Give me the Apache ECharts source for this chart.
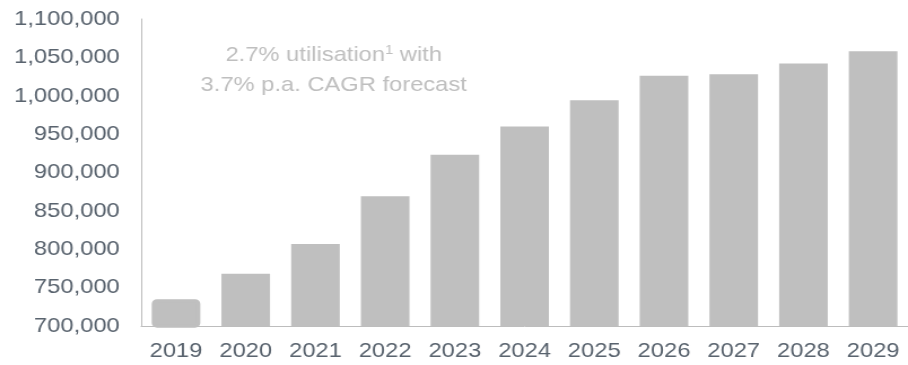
<!DOCTYPE html>
<html>
<head>
<meta charset="utf-8">
<script src="https://cdn.jsdelivr.net/npm/echarts@6/dist/echarts.min.js"></script>
<style>
html,body{margin:0;padding:0;background:#fff;overflow:hidden;width:908px;height:365px;}
#chart{width:804px;height:365px;transform:scaleX(1.12935);transform-origin:0 0;}
</style>
</head>
<body>
<div id="chart"></div>
<script>
const categories = ['2019','2020','2021','2022','2023','2024','2025','2026','2027','2028','2029'];
const values = [735000, 768000, 807000, 869000, 923000, 960000, 994000, 1026000, 1028000, 1042000, 1058000];
const yMin = 700000, yMax = 1100000, yStep = 50000;
const noteLine1 = '2.7% utilisation';
const noteSup = '1';
const noteLine1End = ' with';
const noteLine2 = '3.7% p.a. CAGR forecast';

const FONT = '"Liberation Sans", Arial, sans-serif';
const chart = echarts.init(document.getElementById('chart'), null, {renderer:'canvas'});
chart.setOption({
  animation: false,
  backgroundColor: '#ffffff',
  grid: {left: 125, top: 19, width: 686, height: 307, containLabel: false},
  xAxis: {
    type: 'category',
    data: categories,
    axisLine: {show: true, lineStyle: {color: '#bdbdbd', width: 1}},
    axisTick: {show: false},
    axisLabel: {color: '#59636e', fontSize: 21, fontFamily: FONT, margin: 15}
  },
  yAxis: {
    type: 'value',
    min: yMin, max: yMax, interval: yStep,
    axisLine: {show: true, lineStyle: {color: '#bdbdbd', width: 1}},
    axisTick: {show: false},
    splitLine: {show: false},
    axisLabel: {
      color: '#59636e', fontSize: 21, fontFamily: FONT, margin: 19,
      formatter: v => v.toLocaleString('en-US')
    }
  },
  series: [{
    type: 'bar',
    barWidth: 43,
    data: values.map((v, i) => i === 0
      ? {value: v, itemStyle: {color: '#bfbfbf', borderColor: '#bfbfbf', borderWidth: 3.5, borderRadius: 3}}
      : {value: v}),
    itemStyle: {color: '#bfbfbf'},
    z: 1
  }],
  graphic: [
    {
      type: 'text', x: 295.5, y: 55, z: 10,
      style: {
        text: '{a|' + noteLine1 + '}{s|' + noteSup + '}{a|' + noteLine1End + '}',
        align: 'center', verticalAlign: 'middle',
        rich: {
          a: {fontSize: 21, fontFamily: FONT, fill: '#bfbfbf', color: '#bfbfbf'},
          s: {fontSize: 13, fontFamily: FONT, fill: '#bfbfbf', color: '#bfbfbf', verticalAlign: 'top', padding: [0,0,10,0]}
        }
      }
    },
    {
      type: 'text', x: 295.5, y: 85, z: 10,
      style: {
        text: noteLine2, fontSize: 21, fontFamily: FONT, fill: '#bfbfbf',
        align: 'center', verticalAlign: 'middle'
      }
    }
  ]
});
</script>
</body>
</html>
